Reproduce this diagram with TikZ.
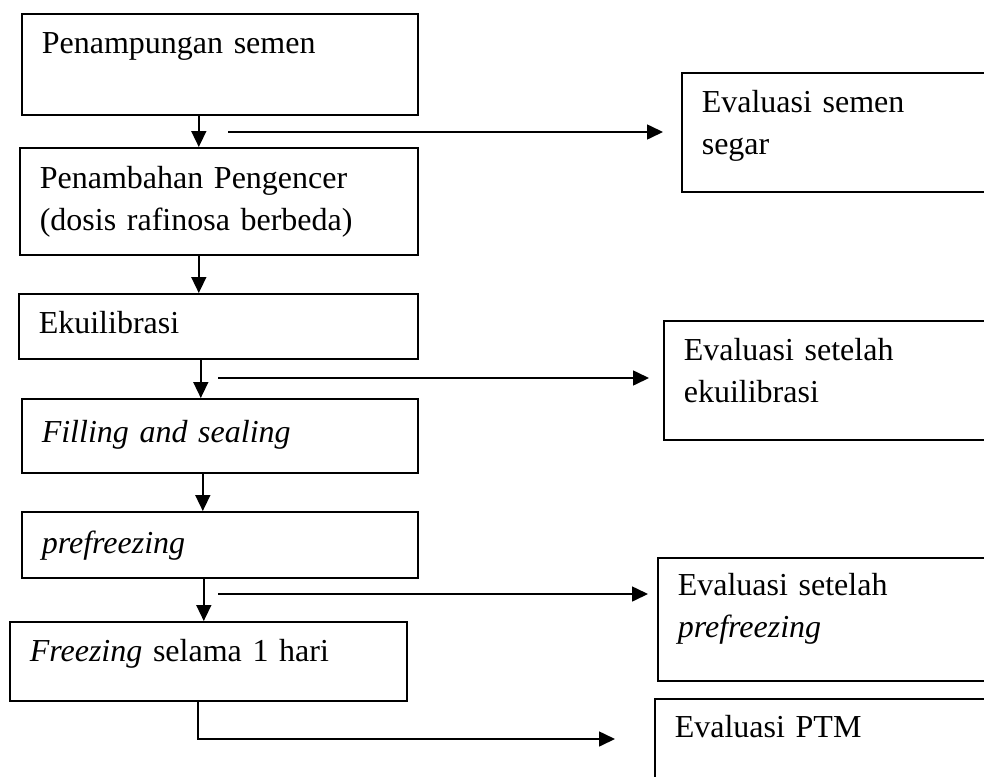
\documentclass[tikz,border=0pt]{standalone}
\usepackage{fontspec}
\setmainfont{Liberation Serif}
\usetikzlibrary{arrows.meta}

\tikzset{
  stage/.style={draw, line width=0.8pt, anchor=north west, align=left,
    inner xsep=10pt, inner ysep=0pt, font=\fontsize{16}{21}\selectfont},
  evalbox/.style={stage, text width=160pt},
  flow/.style={line width=0.8pt, -{Triangle[length=8pt,width=7.5pt]}},
}

\begin{document}
\begin{tikzpicture}[x=0.5pt, y=-0.5pt]
  \useasboundingbox (0,0) rectangle (984,776);
  \clip (0,0) rectangle (984,776);

  % Process steps
  \node[stage, text width=178pt, text height=20pt, text depth=30.5pt] (tampung) at (21,13) {Penampungan semen};
  \node[stage, text width=179pt, text height=20.5pt, text depth=33pt] (encer) at (19,147) {Penambahan Pengencer\\(dosis rafinosa berbeda)};
  \node[stage, text width=179.5pt, text height=20pt, text depth=12.5pt] (ekui) at (18,293) {Ekuilibrasi};
  \node[stage, text width=178pt, text height=22pt, text depth=15pt] (filling) at (21,398) {\textit{Filling and sealing}};
  \node[stage, text width=178pt, text height=21pt, text depth=12pt] (prefreeze) at (21,511) {\textit{prefreezing}};
  \node[stage, text width=178.5pt, text height=20pt, text depth=19.5pt] (freeze) at (9,621) {\textit{Freezing} selama 1 hari};

  % Evaluations
  \node[evalbox, text height=20pt, text depth=39.5pt] (segar) at (681,72) {Evaluasi semen\\segar};
  \node[evalbox, text height=20pt, text depth=39.5pt] (evekui) at (663,320) {Evaluasi setelah\\ekuilibrasi};
  \node[evalbox, text height=19pt, text depth=42.5pt] (evpre) at (657,557) {Evaluasi setelah\\\textit{prefreezing}};
  \node[evalbox, text height=19.5pt, text depth=60pt] (ptm) at (654,698) {Evaluasi PTM};

  % Vertical flow
  \draw[flow] ([xshift=-10.5pt]tampung.south) -- ([xshift=-10.5pt]tampung.south |- encer.north);
  \draw[flow] ([xshift=-10pt]encer.south) -- ([xshift=-10pt]encer.south |- ekui.north);
  \draw[flow] ([xshift=-8.75pt]ekui.south) -- ([xshift=-8.75pt]ekui.south |- filling.north);
  \draw[flow] ([xshift=-8.5pt]filling.south) -- ([xshift=-8.5pt]filling.south |- prefreeze.north);
  \draw[flow] ([xshift=-8pt]prefreeze.south) -- ([xshift=-8pt]prefreeze.south |- freeze.north);

  % Side arrows
  \coordinate (segar-from) at (228,132);
  \coordinate (segar-to) at (663,132);
  \draw[flow] (segar-from) -- (segar-to);
  \coordinate (evekui-from) at (218,378);
  \coordinate (evekui-to) at (649,378);
  \draw[flow] (evekui-from) -- (evekui-to);
  \coordinate (evpre-from) at (218,594);
  \coordinate (evpre-to) at (648,594);
  \draw[flow] (evpre-from) -- (evpre-to);
  \coordinate (ptm-to) at (615,739);
  \draw[flow] ([xshift=-5.25pt]freeze.south) |- (ptm-to);
\end{tikzpicture}
\end{document}
